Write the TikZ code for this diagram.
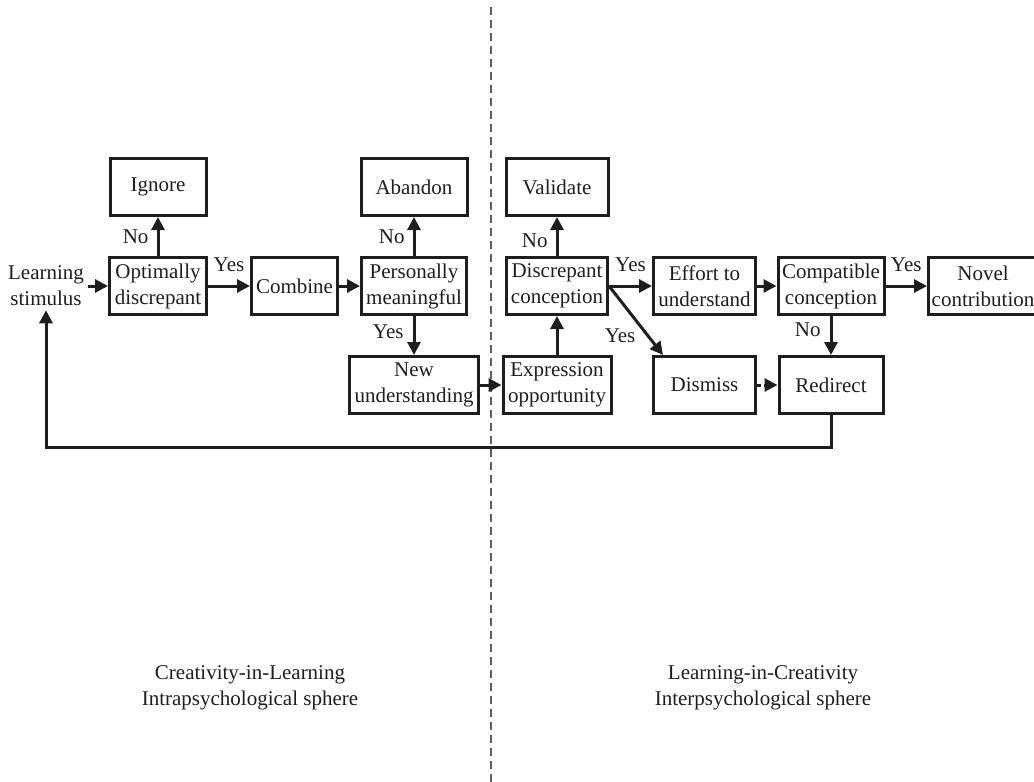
\documentclass[tikz,border=0pt]{standalone}
\usepackage{fontspec}
\setmainfont{Liberation Serif}
\usepackage{xcolor}
\usetikzlibrary{arrows.meta,positioning}
\definecolor{flowdark}{HTML}{1E1E1E}
\definecolor{splitgray}{HTML}{5E5E5E}

\begin{document}
\begin{tikzpicture}[x=1pt,y=-1pt,font=\fontsize{21}{26}\selectfont,
  text=flowdark,
  box/.style={draw=flowdark,line width=3pt,minimum height=57pt,
    inner sep=2pt,align=center},
  arr/.style={-{Triangle[length=13pt,width=13pt]},line width=3pt,
    draw=flowdark},
  dsh/.style={arr,dash pattern=on 4pt off 3pt},
  lbl/.style={inner sep=2pt}]
  \useasboundingbox (0,0) rectangle (1034,782);

  % sphere divider
  \draw[splitgray,line width=1.7pt,dash pattern=on 8pt off 5pt]
    (491,7) -- (491,782);

  % intrapsychological side
  \node[align=center,inner sep=4pt] (stim) at (46,286) {Learning\\stimulus};
  \node[box,minimum width=97pt] (opt) at (158,286) {Optimally\\discrepant};
  \node[box,minimum width=96pt] (ign) at (158,187) {Ignore};
  \node[box,minimum width=86pt] (comb) at (294.5,286) {Combine};
  \node[box,minimum width=105pt] (pers) at (414,286) {Personally\\meaningful};
  \node[box,minimum width=106pt] (aband) at (414,187) {Abandon};
  \node[box,minimum width=129pt] (newu) at (414,385) {New\\understanding};

  \draw[arr] (stim.east) -- (opt.west);
  \draw[arr] (opt.north) -- node[lbl,left=6pt]{No} (ign.south);
  \draw[arr] (opt.east) -- node[lbl,above=11pt]{Yes} (comb.west);
  \draw[arr] (comb.east) -- (pers.west);
  \draw[arr] (pers.north) -- node[lbl,left=6pt]{No} (aband.south);
  \draw[arr] (pers.south) -- node[lbl,pos=0.4,left=7pt]{Yes} (newu.north);

  % interpsychological side
  \node[box,minimum width=108pt] (expr) at (557,385) {Expression\\opportunity};
  \node[box,minimum width=101pt] (disc) at (557,286) {Discrepant\\conception};
  \node[box,minimum width=102pt] (valid) at (557,187) {Validate};
  \node[box,minimum width=102pt] (eff) at (704.5,286) {Effort to\\understand};
  \node[box,minimum width=102pt] (dism) at (704.5,385) {Dismiss};
  \node[box,minimum width=106pt] (compat) at (831,286) {Compatible\\conception};
  \node[box,minimum width=104pt] (redir) at (831,385) {Redirect};
  \node[box,minimum width=109pt] (novel) at (983,286) {Novel\\contribution};

  \draw[arr] (newu.east) -- (expr.west);
  \draw[arr] (expr.north) -- (disc.south);
  \draw[arr] (disc.north) -- node[lbl,pos=0.4,left=6pt]{No} (valid.south);
  \draw[arr] (disc.east) -- node[lbl,above=11pt]{Yes} (eff.west);
  \draw[arr] (disc.east) -- node[lbl,pos=0.72,left=9pt]{Yes}
    ([xshift=11pt]dism.north west);
  \draw[arr] (eff.east) -- (compat.west);
  \draw[arr] (compat.east) -- node[lbl,above=11pt]{Yes} (novel.west);
  \draw[arr] (compat.south) -- node[lbl,pos=0.35,left=7pt]{No} (redir.north);
  \draw[dsh] (dism.east) -- (redir.west);

  % back to the stimulus
  \draw[arr] (redir.south) -- ++(0,32) -| (stim.south);

  \node[align=center] (cil) at (250,688)
    {Creativity-in-Learning\\Intrapsychological sphere};
  \node[align=center] (lic) at (763,688)
    {Learning-in-Creativity\\Interpsychological sphere};
\end{tikzpicture}
\end{document}
